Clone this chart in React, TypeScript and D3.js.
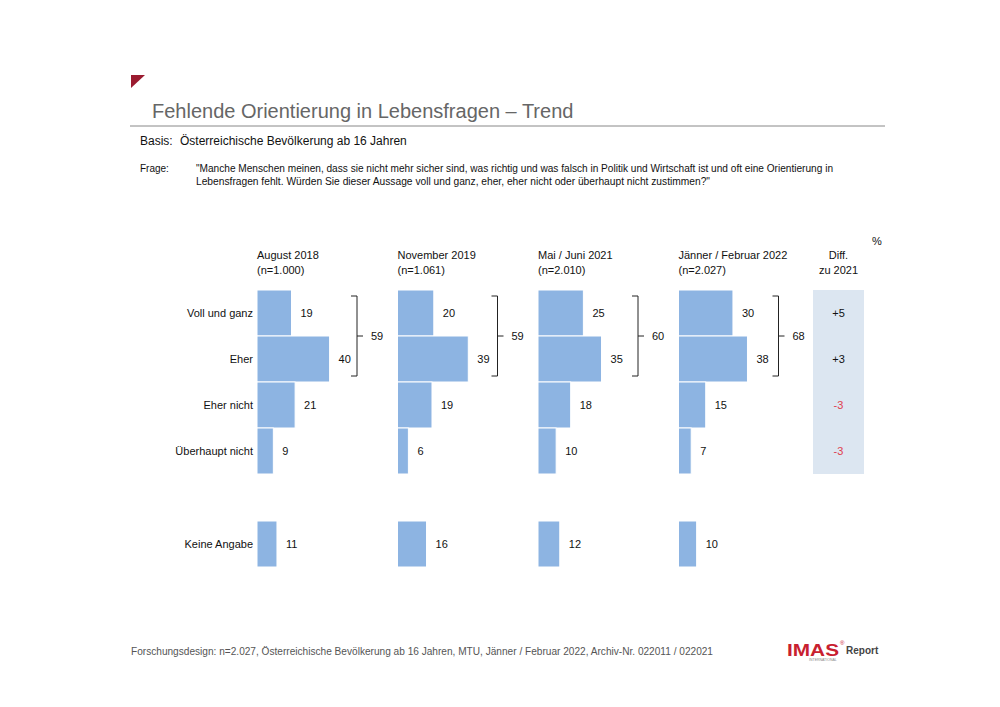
import React from "react";
import * as d3 from "d3";

const categories = ["Voll und ganz", "Eher", "Eher nicht", "Überhaupt nicht"];
const waves = ["August 2018", "November 2019", "Mai / Juni 2021", "Jänner / Februar 2022"];
const sampleSizes = ["(n=1.000)", "(n=1.061)", "(n=2.010)", "(n=2.027)"];
const values2018 = [19, 40, 21, 9];
const values2019 = [20, 39, 19, 6];
const values2021 = [25, 35, 18, 10];
const values2022 = [30, 38, 15, 7];
const keineAngabe = [11, 16, 12, 10];
const topTwo = [59, 59, 60, 68];
const diffValues = [5, 3, -3, -3];

const allValues = [values2018, values2019, values2021, values2022];

const FONT = "'Liberation Sans', Arial, sans-serif";
const BAR = "#8db4e2";

export default function App() {
  const W = 1000, H = 707;
  const x = d3.scaleLinear().domain([0, 100]).range([0, 181.5]);
  const gx = d3.scaleLinear().domain([0, 3]).range([257, 678.5]);
  const y = d3.scaleBand().domain(categories).range([290, 474]).paddingInner(0);
  const kaY = 521, kaH = y.bandwidth();
  const diffX0 = 813, diffX1 = 864;
  const diffCx = (diffX0 + diffX1) / 2;

  return (
    <svg width={W} height={H} style={{ position: "absolute", left: 0, top: 0, background: "#fff" }} fontFamily={FONT}>
      {/* header */}
      <polygon points="131,75 145,75 131,88" fill="#9b1b30" />
      <text x={152} y={118} fontSize={20} fill="#666">Fehlende Orientierung in Lebensfragen – Trend</text>
      <line x1={130} x2={885} y1={126} y2={126} stroke="#888" strokeWidth={1} />
      <text x={140} y={145} fontSize={12} fill="#111">Basis:</text>
      <text x={180} y={145} fontSize={12} fill="#111">Österreichische Bevölkerung ab 16 Jahren</text>
      <text x={140} y={172} fontSize={10} fill="#111">Frage:</text>
      <text x={196} y={172} fontSize={10} fill="#111" textLength={637} lengthAdjust="spacingAndGlyphs">"Manche Menschen meinen, dass sie nicht mehr sicher sind, was richtig und was falsch in Politik und Wirtschaft ist und oft eine Orientierung in</text>
      <text x={196} y={185} fontSize={10} fill="#111" textLength={514} lengthAdjust="spacingAndGlyphs">Lebensfragen fehlt. Würden Sie dieser Aussage voll und ganz, eher, eher nicht oder überhaupt nicht zustimmen?"</text>

      {/* category labels */}
      {categories.map((c) => (
        <text key={c} x={253} y={(y(c) as number) + y.bandwidth() / 2} dy="0.35em" textAnchor="end" fontSize={11} fill="#111">{c}</text>
      ))}
      <text x={253} y={kaY + kaH / 2} dy="0.35em" textAnchor="end" fontSize={11} fill="#111">Keine Angabe</text>

      {/* diff column */}
      <rect x={diffX0} y={290} width={diffX1 - diffX0} height={184} fill="#dce6f1" />
      <text x={877} y={245} textAnchor="middle" fontSize={11} fill="#111">%</text>
      <text x={diffCx} y={259} textAnchor="middle" fontSize={11} fill="#111">Diff.</text>
      <text x={diffCx} y={274} textAnchor="middle" fontSize={11} fill="#111">zu 2021</text>
      {categories.map((c, i) => (
        <text key={c} x={diffCx} y={(y(c) as number) + y.bandwidth() / 2} dy="0.35em" textAnchor="middle" fontSize={11}
          fill={diffValues[i] < 0 ? "#e0404f" : "#111"}>
          {diffValues[i] > 0 ? `+${diffValues[i]}` : `${diffValues[i]}`}
        </text>
      ))}

      {/* wave groups */}
      {waves.map((w, wi) => {
        const x0 = gx(wi);
        const vals = allValues[wi];
        const bx = x0 + 100;
        const yTop = (y(categories[0]) as number) + 6;
        const yBot = (y(categories[1]) as number) + y.bandwidth() - 6;
        const yMid = (y(categories[1]) as number);
        return (
          <g key={w}>
            <text x={x0} y={259} fontSize={11} fill="#111">{w}</text>
            <text x={x0} y={274} fontSize={11} fill="#111">{sampleSizes[wi]}</text>
            {categories.map((c, ci) => (
              <g key={c}>
                <rect x={x0} y={y(c)} width={x(vals[ci])} height={y.bandwidth()} fill={BAR} stroke="#fff" strokeWidth={1} />
                <text x={x0 + x(vals[ci]) + 9} y={(y(c) as number) + y.bandwidth() / 2} dy="0.35em" fontSize={11} fill="#111">{vals[ci]}</text>
              </g>
            ))}
            <rect x={x0} y={kaY} width={x(keineAngabe[wi])} height={kaH} fill={BAR} stroke="#fff" strokeWidth={1} />
            <text x={x0 + x(keineAngabe[wi]) + 9} y={kaY + kaH / 2} dy="0.35em" fontSize={11} fill="#111">{keineAngabe[wi]}</text>
            {/* bracket */}
            <path d={`M${bx - 6},${yTop} H${bx} V${yBot} H${bx - 6} M${bx},${yMid} H${bx + 6}`} fill="none" stroke="#222" strokeWidth={1} />
            <text x={bx + 14} y={yMid} dy="0.35em" fontSize={11} fill="#111">{topTwo[wi]}</text>
          </g>
        );
      })}

      {/* footer */}
      <text x={131} y={655} fontSize={10} fill="#555" textLength={582} lengthAdjust="spacingAndGlyphs">Forschungsdesign: n=2.027, Österreichische Bevölkerung ab 16 Jahren, MTU, Jänner / Februar 2022, Archiv-Nr. 022011 / 022021</text>
      <text x={787} y={656} fontSize={16} fontWeight="bold" fill="#c8202f" textLength={52} lengthAdjust="spacingAndGlyphs">IMAS</text>
      <text x={840} y={645} fontSize={6} fill="#c8202f">®</text>
      <text x={846} y={654} fontSize={10} fontWeight="bold" fill="#444">Report</text>
      <text x={809} y={661} fontSize={3.5} fill="#888">INTERNATIONAL</text>
    </svg>
  );
}
